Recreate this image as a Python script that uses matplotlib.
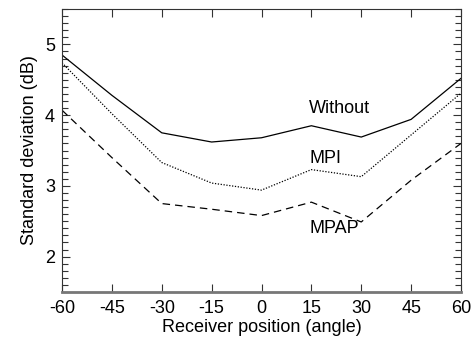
import numpy as np
import matplotlib
matplotlib.use('Agg')
import matplotlib.pyplot as plt
from matplotlib.ticker import MultipleLocator

plt.rcParams['font.family'] = ['Liberation Sans', 'DejaVu Sans']
plt.rcParams['axes.unicode_minus'] = False

# Data
angles = [-60, -45, -30, -15, 0, 15, 30, 45, 60]
without = [4.85, 4.28, 3.75, 3.62, 3.68, 3.85, 3.69, 3.94, 4.52]
mpi = [4.74, 4.02, 3.33, 3.04, 2.94, 3.23, 3.13, 3.72, 4.31]
mpap = [4.07, 3.40, 2.75, 2.67, 2.58, 2.77, 2.49, 3.08, 3.60]

fig = plt.figure(figsize=(4.77, 3.38), dpi=100)
ax = fig.add_axes([62/477, 1 - 292/338, (461-62)/477, (292-9)/338])

ax.plot(angles, without, color='black', lw=0.9, ls='-')
ax.plot(angles, mpi, color='black', lw=0.9, ls=(0, (1, 1.3)))
ax.plot(angles, mpap, color='black', lw=0.9, ls=(0, (6, 4)))

ax.text(14.3, 4.10, 'Without', fontsize=13, ha='left', va='center')
ax.text(14.3, 3.38, 'MPI', fontsize=13, ha='left', va='center')
ax.text(14.3, 2.40, 'MPAP', fontsize=13, ha='left', va='center')

ax.set_xlim(-60, 60)
ax.set_ylim(1.5, 5.5)
ax.set_xticks(np.arange(-60, 61, 15))
ax.set_yticks([2, 3, 4, 5])
ax.yaxis.set_minor_locator(MultipleLocator(0.1))

ax.tick_params(axis='both', which='both', direction='in', labelsize=13,
               top=True, right=True, color='#333333')
ax.tick_params(axis='x', which='major', length=6, width=0.8, pad=6)
ax.tick_params(axis='y', which='major', length=6, width=0.8, pad=5)
ax.tick_params(axis='y', which='minor', length=4, width=0.8)
ax.tick_params(axis='x', which='minor', bottom=False, top=False)

for s in ['left', 'top', 'right']:
    ax.spines[s].set_linewidth(0.8)
    ax.spines[s].set_color('#333333')
ax.spines['bottom'].set_linewidth(2)
ax.spines['bottom'].set_color('#777777')

ax.set_xlabel('Receiver position (angle)', fontsize=13, labelpad=1)
ax.set_ylabel('Standard deviation (dB)', fontsize=13, labelpad=5)

fig.savefig('out.png', dpi=100)
